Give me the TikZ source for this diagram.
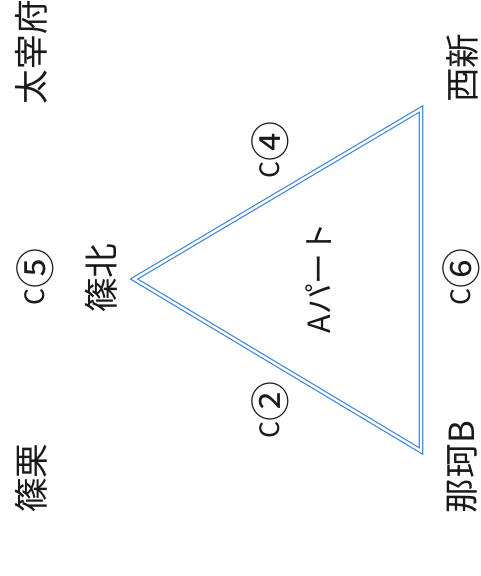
\documentclass[tikz,border=0pt]{standalone}
\usepackage{fontspec}
\setmainfont{Noto Sans CJK JP}
\definecolor{triblue}{RGB}{65,135,215}
\newcommand{\circnum}[1]{\smash{\fontsize{30}{30}\selectfont\raisebox{-4.5pt}{#1}}}
\begin{document}
\begin{tikzpicture}[x=0.75pt,y=-0.75pt,
  place/.style={rotate=90,inner sep=0pt,font=\fontsize{26}{26}\selectfont,text=black!90},
  clabel/.style={rotate=90,inner sep=0pt,font=\fontsize{20}{20}\selectfont,text=black!90},
  area/.style={rotate=90,inner sep=0pt,font=\fontsize{23}{23}\selectfont,text=black!90},
  tri/.style={draw=triblue,line width=0.9pt,double=white,double distance=1.8pt,line join=miter}]
\useasboundingbox (0,0) rectangle (481,576);
\coordinate (apex) at (134,279);
\coordinate (tr) at (421,109);
\coordinate (br) at (421,451);
\draw[tri] (apex) -- (tr) -- (br) -- cycle;
\node[place] (dazaifu) at (31,52) {太宰府};
\node[place] (nishijin) at (462,68) {西新};
\node[place] (sasaguri) at (31,478) {篠栗};
\node[place] (nakab) at (462,467) {那珂B};
\node[place] (shinohoku) at (101,278) {篠北};
\node[clabel] (c5) at (35,277) {C\circnum{⑤}};
\node[clabel] (c4) at (270,150) {C\circnum{④}};
\node[clabel] (c2) at (270,410) {C\circnum{②}};
\node[clabel] (c6) at (461,277) {C\circnum{⑥}};
\node[area] (apart) at (319,278) {Aパート};
\end{tikzpicture}
\end{document}
